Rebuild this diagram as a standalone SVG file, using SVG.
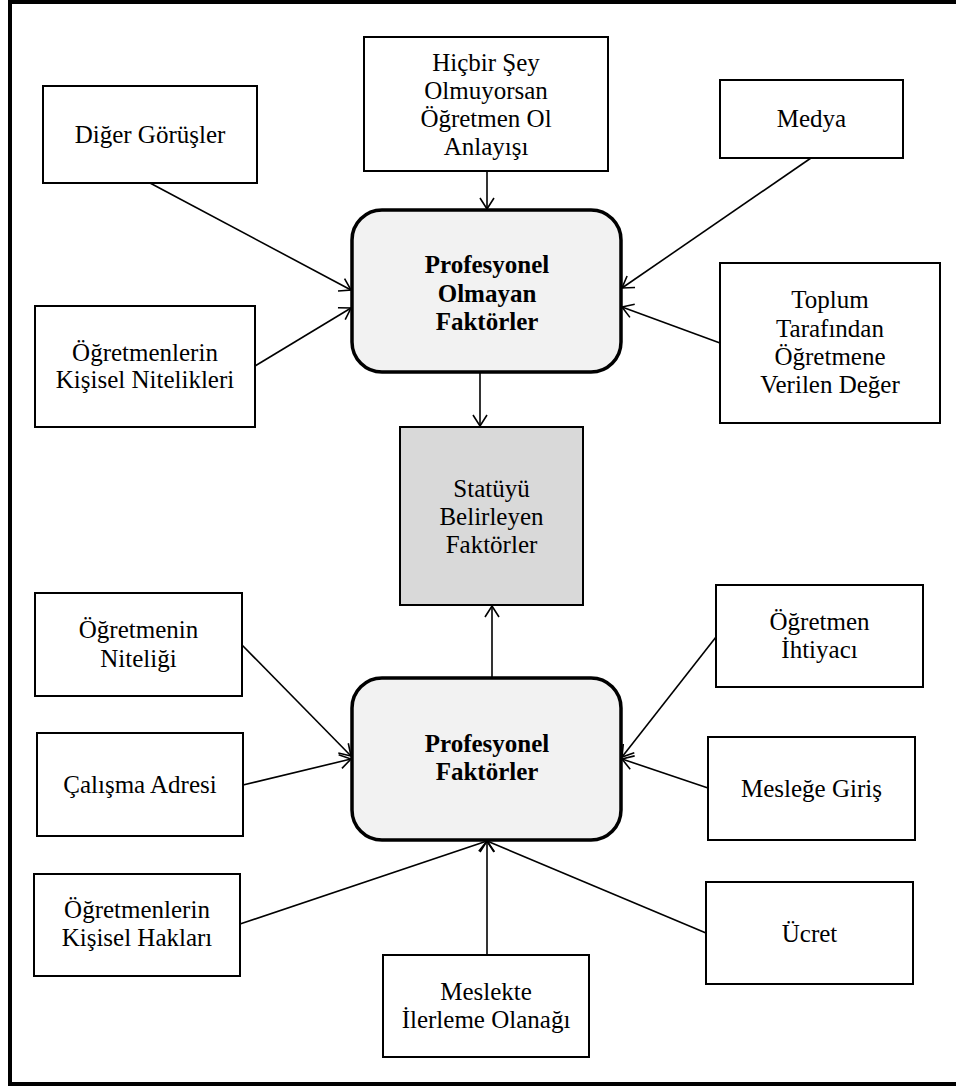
<svg xmlns="http://www.w3.org/2000/svg" width="956" height="1086" viewBox="0 0 956 1086">
<style>
.box{fill:#ffffff;stroke:#000;stroke-width:2}
.main{fill:#f2f2f2;stroke:#000;stroke-width:3.5}
.stat{fill:#d9d9d9;stroke:#000;stroke-width:2}
.t{font-family:'Liberation Serif',serif;font-size:25px;fill:#000;text-anchor:middle}
.b{font-weight:bold}
.edge{stroke:#000;stroke-width:1.6;fill:none;marker-end:url(#arr)}
</style>
<defs>
<marker id="arr" markerUnits="userSpaceOnUse" markerWidth="14" markerHeight="18" refX="12" refY="8" orient="auto">
<path d="M1,1 L12,8 L1,15" fill="none" stroke="#000" stroke-width="1.6"/>
</marker>
</defs>
<rect width="956" height="1086" fill="#fff"/>
<g id="frame" stroke="#000" stroke-width="4" fill="none">
<path d="M956,2 L10,2 L10,1084 L956,1084"/>
</g>
<g id="connectors">
<line class="edge" x1="150" y1="183" x2="351" y2="290"/>
<line class="edge" x1="255" y1="366" x2="351" y2="308"/>
<line class="edge" x1="487" y1="171" x2="487" y2="209"/>
<line class="edge" x1="811" y1="158" x2="622" y2="288"/>
<line class="edge" x1="720" y1="343" x2="622" y2="307"/>
<line class="edge" x1="480" y1="373" x2="480" y2="426"/>
<line class="edge" x1="492" y1="677" x2="492" y2="606"/>
<line class="edge" x1="242" y1="645" x2="351" y2="756"/>
<line class="edge" x1="243" y1="785" x2="351" y2="759"/>
<line class="edge" x1="716" y1="637" x2="622" y2="757"/>
<line class="edge" x1="708" y1="788" x2="622" y2="759"/>
<line class="edge" x1="240" y1="924" x2="487" y2="841"/>
<line class="edge" x1="487" y1="955" x2="487" y2="841"/>
<line class="edge" x1="706" y1="933" x2="487" y2="841"/>
</g>
<g id="n-diger"><rect class="box" x="43" y="86" width="214" height="97"/><text class="t" font-family="Liberation Serif" x="150" y="143">Diğer Görüşler</text></g>
<g id="n-hicbir"><rect class="box" x="364" y="37" width="244" height="134"/><text class="t" font-family="Liberation Serif" x="486" y="71">Hiçbir Şey</text><text class="t" font-family="Liberation Serif" x="486" y="99">Olmuyorsan</text><text class="t" font-family="Liberation Serif" x="486" y="127">Öğretmen Ol</text><text class="t" font-family="Liberation Serif" x="486" y="155">Anlayışı</text></g>
<g id="n-medya"><rect class="box" x="720" y="80" width="183" height="78"/><text class="t" font-family="Liberation Serif" x="811.5" y="127">Medya</text></g>
<g id="n-kisisel-nitelik"><rect class="box" x="35" y="306" width="220" height="121"/><text class="t" font-family="Liberation Serif" x="145" y="361">Öğretmenlerin</text><text class="t" font-family="Liberation Serif" x="145" y="388">Kişisel Nitelikleri</text></g>
<g id="n-profesyonel-olmayan"><rect class="main" x="352" y="210" width="269" height="162" rx="30"/><text class="t b" font-family="Liberation Serif" x="487" y="273">Profesyonel</text><text class="t b" font-family="Liberation Serif" x="487" y="302">Olmayan</text><text class="t b" font-family="Liberation Serif" x="487" y="330">Faktörler</text></g>
<g id="n-toplum"><rect class="box" x="720" y="263" width="220" height="160"/><text class="t" font-family="Liberation Serif" x="830" y="308">Toplum</text><text class="t" font-family="Liberation Serif" x="830" y="337">Tarafından</text><text class="t" font-family="Liberation Serif" x="830" y="365">Öğretmene</text><text class="t" font-family="Liberation Serif" x="830" y="393">Verilen Değer</text></g>
<g id="n-statu"><rect class="stat" x="400" y="427" width="183" height="178"/><text class="t" font-family="Liberation Serif" x="491.5" y="497">Statüyü</text><text class="t" font-family="Liberation Serif" x="491.5" y="525">Belirleyen</text><text class="t" font-family="Liberation Serif" x="491.5" y="553">Faktörler</text></g>
<g id="n-niteligi"><rect class="box" x="35" y="593" width="207" height="103"/><text class="t" font-family="Liberation Serif" x="138.5" y="638">Öğretmenin</text><text class="t" font-family="Liberation Serif" x="138.5" y="667">Niteliği</text></g>
<g id="n-ihtiyac"><rect class="box" x="716" y="585" width="207" height="102"/><text class="t" font-family="Liberation Serif" x="819.5" y="630">Öğretmen</text><text class="t" font-family="Liberation Serif" x="819.5" y="658">İhtiyacı</text></g>
<g id="n-calisma"><rect class="box" x="37" y="733" width="206" height="103"/><text class="t" font-family="Liberation Serif" x="140" y="793">Çalışma Adresi</text></g>
<g id="n-profesyonel"><rect class="main" x="352" y="678" width="269" height="162" rx="30"/><text class="t b" font-family="Liberation Serif" x="487" y="752">Profesyonel</text><text class="t b" font-family="Liberation Serif" x="487" y="780">Faktörler</text></g>
<g id="n-meslege"><rect class="box" x="708" y="737" width="207" height="103"/><text class="t" font-family="Liberation Serif" x="811.5" y="797">Mesleğe Giriş</text></g>
<g id="n-haklari"><rect class="box" x="34" y="874" width="206" height="102"/><text class="t" font-family="Liberation Serif" x="137" y="918">Öğretmenlerin</text><text class="t" font-family="Liberation Serif" x="137" y="946">Kişisel Hakları</text></g>
<g id="n-ucret"><rect class="box" x="706" y="882" width="207" height="102"/><text class="t" font-family="Liberation Serif" x="809.5" y="942">Ücret</text></g>
<g id="n-meslekte"><rect class="box" x="383" y="955" width="206" height="102"/><text class="t" font-family="Liberation Serif" x="486" y="1000">Meslekte</text><text class="t" font-family="Liberation Serif" x="486" y="1028">İlerleme Olanağı</text></g>
</svg>
